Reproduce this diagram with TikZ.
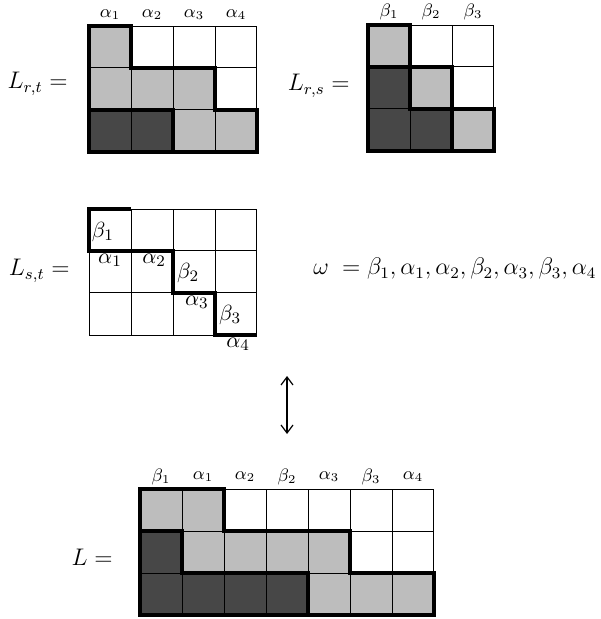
\documentclass[tikz,border=0pt]{standalone}
\usepackage{amsmath,amssymb}
\usetikzlibrary{arrows.meta}

\begin{document}
\begin{tikzpicture}[
    x=0.5pt, y=-0.5pt,
    light/.style={fill=black!26},
    dark/.style={fill=black!72},
    gridline/.style={line width=0.5pt, step=21pt},
    profile/.style={line width=1.7pt, line join=miter},
    collabel/.style={font=\small, inner sep=0pt},
    celllabel/.style={font=\fontsize{11}{13}\selectfont, inner sep=0pt},
    eqlabel/.style={anchor=east, inner sep=0pt, font=\fontsize{11.5}{14}\selectfont},
    swap/.style={{Straight Barb[length=4pt,width=6pt]}-{Straight Barb[length=4pt,width=6pt]}, line width=0.6pt}
]
\useasboundingbox (0,0) rectangle (600,619);

% L_{r,t}
\node[eqlabel] (Lrt) at (68,84) {$L_{r,t} =$};
\begin{scope}[shift={(89,26)}, x=21pt, y=-21pt]
  \fill[light] (0,0) -- (1,0) -- (1,1) -- (3,1) -- (3,2) -- (4,2) -- (4,3) -- (2,3) -- (2,2) -- (0,2) -- cycle;
  \fill[dark] (0,2) rectangle (2,3);
  \draw[gridline] (0,0) grid (4,3);
  \draw[profile] (0,0) -- (1,0) -- (1,1) -- (3,1) -- (3,2) -- (4,2) -- (4,3) -- (2,3) -- (2,2) -- (0,2) -- cycle;
  \draw[profile] (0,2) rectangle (2,3);
  \foreach \i in {1,...,4}
    \node[collabel] (rt-a\i) at (\i-0.5,-0.28) {$\alpha_{\i}$};
\end{scope}

% L_{r,s}
\node[eqlabel] (Lrs) at (350,86) {$L_{r,s} =$};
\begin{scope}[shift={(368,25)}, x=21pt, y=-21pt]
  \foreach \i in {0,1,2}
    \fill[light] (\i,\i) rectangle (\i+1,\i+1);
  \fill[dark] (0,1) -- (1,1) -- (1,2) -- (2,2) -- (2,3) -- (0,3) -- cycle;
  \draw[gridline] (0,0) grid (3,3);
  \foreach \i in {0,1,2}
    \draw[profile] (\i,\i) rectangle (\i+1,\i+1);
  \draw[profile] (0,1) -- (1,1) -- (1,2) -- (2,2) -- (2,3) -- (0,3) -- cycle;
  \foreach \i in {1,2,3}
    \node[collabel] (rs-b\i) at (\i-0.5,-0.3) {$\beta_{\i}$};
\end{scope}

% L_{s,t}
\node[eqlabel] (Lst) at (70,271) {$L_{s,t} =$};
\begin{scope}[shift={(89,209)}, x=21pt, y=-21pt]
  \draw[gridline] (0,0) grid (4,3);
  \draw[profile] (1,0) -- (0,0) -- (0,1) -- (2,1) -- (2,2) -- (3,2) -- (3,3) -- (4,3);
  \node[celllabel] (st-b1) at (0.33,0.55) {$\beta_1$};
  \node[celllabel] (st-a1) at (0.5,1.22) {$\alpha_1$};
  \node[celllabel] (st-a2) at (1.55,1.22) {$\alpha_2$};
  \node[celllabel] (st-b2) at (2.36,1.52) {$\beta_2$};
  \node[celllabel] (st-a3) at (2.57,2.22) {$\alpha_3$};
  \node[celllabel] (st-b3) at (3.36,2.52) {$\beta_3$};
  \node[celllabel] (st-a4) at (3.55,3.22) {$\alpha_4$};
\end{scope}

\node[anchor=west, inner sep=0pt, font=\fontsize{12}{14}\selectfont] (omega) at (313,269)
  {$\omega\;=\beta_1,\alpha_1,\alpha_2,\beta_2,\alpha_3,\beta_3,\alpha_4$};

% double arrow
\coordinate (up) at (287,376);
\coordinate (down) at (287,434);
\draw[swap] (up) -- (down);

% L
\node[eqlabel] (L) at (113,557) {$L =$};
\begin{scope}[shift={(140,489)}, x=21pt, y=-21pt]
  \fill[light] (0,0) -- (2,0) -- (2,1) -- (5,1) -- (5,2) -- (7,2) -- (7,3) -- (4,3) -- (4,2) -- (1,2) -- (1,1) -- (0,1) -- cycle;
  \fill[dark] (0,1) -- (1,1) -- (1,2) -- (4,2) -- (4,3) -- (0,3) -- cycle;
  \draw[gridline] (0,0) grid (7,3);
  \draw[profile] (0,0) -- (2,0) -- (2,1) -- (5,1) -- (5,2) -- (7,2) -- (7,3) -- (4,3) -- (4,2) -- (1,2) -- (1,1) -- (0,1) -- cycle;
  \draw[profile] (0,1) -- (1,1) -- (1,2) -- (4,2) -- (4,3) -- (0,3) -- cycle;
  \foreach \i/\lab in {1/\beta_1,2/\alpha_1,3/\alpha_2,4/\beta_2,5/\alpha_3,6/\beta_3,7/\alpha_4}
    \node[collabel] (l-c\i) at (\i-0.5,-0.29) {$\lab$};
\end{scope}

\end{tikzpicture}
\end{document}
